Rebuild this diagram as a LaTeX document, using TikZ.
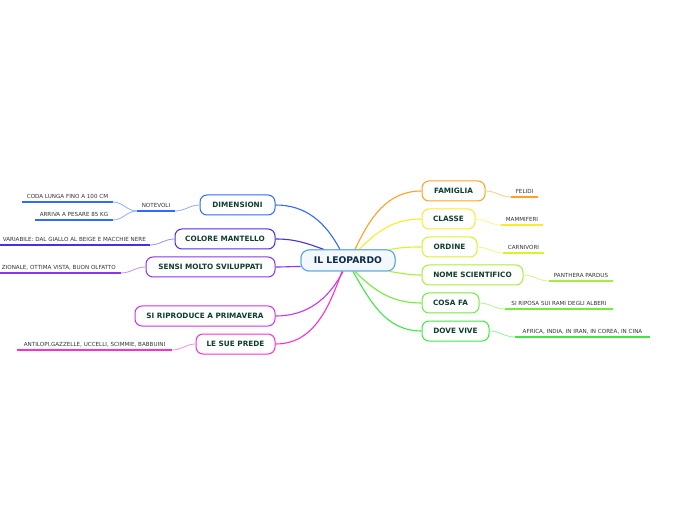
\documentclass[tikz,border=0pt]{standalone}
\usepackage{fontspec}
\setmainfont{DejaVu Sans}
\usetikzlibrary{calc}
\definecolor{cFam}{HTML}{FFA224}
\definecolor{cCla}{HTML}{FFE92A}
\definecolor{cOrd}{HTML}{D8F22E}
\definecolor{cNom}{HTML}{A6EE3A}
\definecolor{cCos}{HTML}{74EC38}
\definecolor{cDov}{HTML}{3FE83F}
\definecolor{cDim}{HTML}{2F6BFF}
\definecolor{cCol}{HTML}{4A2CEE}
\definecolor{cSen}{HTML}{8A33F0}
\definecolor{cRip}{HTML}{CC33F0}
\definecolor{cPre}{HTML}{FF2FCC}
\definecolor{cCen}{HTML}{5AA7DD}
\definecolor{mainTxt}{HTML}{0F3D2E}
\definecolor{cenTxt}{HTML}{0C2A4A}
\definecolor{leafTxt}{HTML}{333333}
\tikzset{
  centerbox/.style={draw=cCen, line width=1pt, rounded corners=8pt, fill=cCen!8,
    minimum width=94pt, minimum height=21pt, inner sep=0pt, text=cenTxt,
    font=\fontsize{9.2}{10}\selectfont\bfseries},
  mainbox/.style={draw=#1, line width=1pt, rounded corners=7pt, fill=white,
    minimum height=20pt, inner sep=0pt, text=mainTxt,
    font=\fontsize{7.3}{8}\selectfont\bfseries},
  leafbox/.style={inner xsep=0pt, inner ysep=3.3pt, text=leafTxt, anchor=south,
    text height=4.2pt, text depth=0pt, font=\fontsize{5.6}{6}\selectfont},
  uline/.style={draw=#1, line width=1.2pt},
  maincon/.style={draw=#1, line width=1.1pt},
  leafcon/.style={draw=#1!55, line width=0.8pt},
}
\begin{document}
\begin{tikzpicture}[x=1pt,y=1pt]
\useasboundingbox (0,0) rectangle (696,520);
\fill[white] (0,0) rectangle (696,520);
\clip (0,0) rectangle (696,520);

% central node
\node[centerbox] (c) at (348,259.5) {IL LEOPARDO};

% right main nodes
\node[mainbox=cFam, minimum width=63pt] (fam) at (453.5,329) {FAMIGLIA};
\node[mainbox=cCla, minimum width=53pt] (cla) at (448.5,301) {CLASSE};
\node[mainbox=cOrd, minimum width=55pt] (ord) at (449.5,273) {ORDINE};
\node[mainbox=cNom, minimum width=101pt] (nom) at (472.5,245) {NOME SCIENTIFICO};
\node[mainbox=cCos, minimum width=57pt] (cos) at (450.5,217) {COSA FA};
\node[mainbox=cDov, minimum width=67pt] (dov) at (455.5,189) {DOVE VIVE};

% left main nodes
\node[mainbox=cDim, minimum width=75pt] (dim) at (237.5,315) {DIMENSIONI};
\node[mainbox=cCol, minimum width=100pt] (col) at (225,281) {COLORE MANTELLO};
\node[mainbox=cSen, minimum width=129pt] (sen) at (210.5,253) {SENSI MOLTO SVILUPPATI};
\node[mainbox=cRip, minimum width=140pt] (rip) at (205,204) {SI RIPRODUCE A PRIMAVERA};
\node[mainbox=cPre, minimum width=79pt] (pre) at (235.5,176) {LE SUE PREDE};

% right leaves
\node[leafbox, minimum width=27pt] (felidi) at (524.5,323) {FELIDI};
\node[leafbox, minimum width=42pt] (mammi) at (522,295) {MAMMIFERI};
\node[leafbox, minimum width=41pt] (carni) at (523.5,267) {CARNIVORI};
\node[leafbox, minimum width=64pt] (panth) at (581,239) {PANTHERA PARDUS};
\node[leafbox, minimum width=108pt] (ripo) at (559,211) {SI RIPOSA SUI RAMI DEGLI ALBERI};
\node[leafbox, minimum width=135pt] (afr) at (582.5,183) {AFRICA, INDIA, IN IRAN, IN COREA, IN CINA};

% left leaves
\node[leafbox, minimum width=38pt] (note) at (156,309) {NOTEVOLI};
\node[leafbox, minimum width=91pt] (coda) at (67.5,318) {CODA LUNGA FINO A 100 CM};
\node[leafbox, minimum width=78pt] (arr) at (74,300) {ARRIVA A PESARE 85 KG};
\node[leafbox, inner xsep=4pt, anchor=south east] (var) at (150,275) {VARIABILE: DAL GIALLO AL BEIGE E MACCHIE NERE};
\node[leafbox, inner xsep=5pt, anchor=south east] (udi) at (121,247) {ZIONALE, OTTIMA VISTA, BUON OLFATTO};
\node[leafbox, minimum width=155pt] (ant) at (94.5,170) {ANTILOPI,GAZZELLE, UCCELLI, SCIMMIE, BABBUINI};

% underlines
\draw[uline=cFam] (felidi.south west) -- (felidi.south east);
\draw[uline=cCla] (mammi.south west) -- (mammi.south east);
\draw[uline=cOrd] (carni.south west) -- (carni.south east);
\draw[uline=cNom] (panth.south west) -- (panth.south east);
\draw[uline=cCos] (ripo.south west) -- (ripo.south east);
\draw[uline=cDov] (afr.south west) -- (afr.south east);
\draw[uline=cDim] (note.south west) -- (note.south east);
\draw[uline=cDim] (coda.south west) -- (coda.south east);
\draw[uline=cDim] (arr.south west) -- (arr.south east);
\draw[uline=cCol] ($(var.south west)+(-10,0)$) -- (var.south east);
\draw[uline=cSen] ($(udi.south west)+(-10,0)$) -- (udi.south east);
\draw[uline=cPre] (ant.south west) -- (ant.south east);

% leaf connectors
\draw[leafcon=cFam] (fam.east) to[out=0,in=180] (felidi.south west);
\draw[leafcon=cCla] (cla.east) to[out=0,in=180] (mammi.south west);
\draw[leafcon=cOrd] (ord.east) to[out=0,in=180] (carni.south west);
\draw[leafcon=cNom] (nom.east) to[out=0,in=180] (panth.south west);
\draw[leafcon=cCos] (cos.east) to[out=0,in=180] (ripo.south west);
\draw[leafcon=cDov] (dov.east) to[out=0,in=180] (afr.south west);
\draw[leafcon=cDim] (dim.west) to[out=180,in=0] (note.south east);
\draw[leafcon=cDim] (note.south west) to[out=180,in=0] (coda.south east);
\draw[leafcon=cDim] (note.south west) to[out=180,in=0] (arr.south east);
\draw[leafcon=cCol] (col.west) to[out=180,in=0] (var.south east);
\draw[leafcon=cSen] (sen.west) to[out=180,in=0] (udi.south east);
\draw[leafcon=cPre] (pre.west) to[out=180,in=0] (ant.south east);

% main connectors
\draw[maincon=cFam] ($(c.north)+(7,0)$) to[out=65,in=180] (fam.west);
\draw[maincon=cCla] ($(c.north)+(11,0)$) to[out=45,in=180] (cla.west);
\draw[maincon=cOrd] ($(c.north east)+(-6,0)$) to[out=10,in=180] (ord.west);
\draw[maincon=cNom] ($(c.south east)+(-6,0)$) to[out=-8,in=180] (nom.west);
\draw[maincon=cCos] ($(c.south)+(7,0)$) to[out=-45,in=180] (cos.west);
\draw[maincon=cDov] ($(c.south)+(5,0)$) to[out=-60,in=180] (dov.west);
\draw[maincon=cDim] ($(c.north)+(-8,0)$) to[out=118,in=0] (dim.east);
\draw[maincon=cCol] ($(c.north)+(-24,0)$) to[out=160,in=0] (col.east);
\draw[maincon=cSen] ($(c.west)+(0,-6)$) to[out=180,in=0] (sen.east);
\draw[maincon=cRip] ($(c.south)+(-5,0)$) to[out=-118,in=0] (rip.east);
\draw[maincon=cPre] ($(c.south)+(-6,0)$) to[out=-110,in=0] (pre.east);

% redraw central node on top of connectors
\node[centerbox] at (c) {IL LEOPARDO};
\end{tikzpicture}
\end{document}
